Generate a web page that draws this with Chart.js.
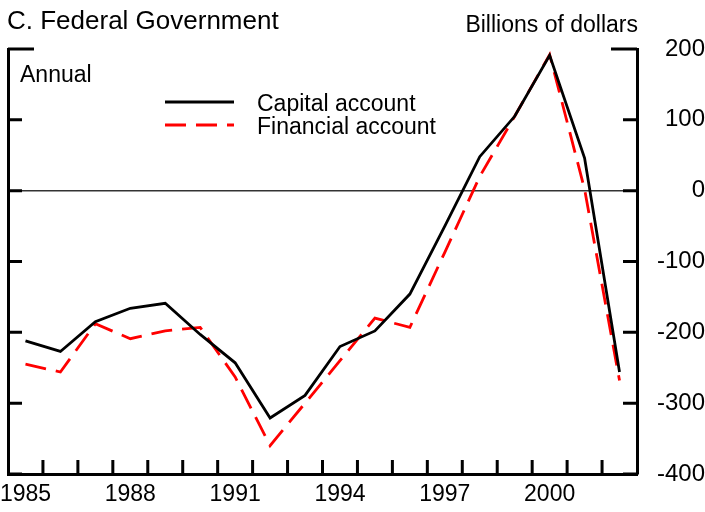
<!DOCTYPE html>
<html lang="en">
<head>
<meta charset="UTF-8">
<title>C. Federal Government</title>
<script src="https://cdn.jsdelivr.net/npm/chart.js"></script>
<style>
  body { margin: 0; background: #fff; }
  canvas { display: block; }
</style>
</head>
<body>
<canvas id="chart" width="705" height="512"></canvas>
<script>
// Billions of dollars, annual
const years = ['1985', '1986', '1987', '1988', '1989', '1990', '1991', '1992', '1993',
  '1994', '1995', '1996', '1997', '1998', '1999', '2000', '2001', '2002'];
const capitalAccount = [-212, -227, -185, -166, -159, -203, -243, -321, -289,
  -220, -198, -146, -50, 48, 105, 191, 46, -256];
const financialAccount = [-245, -256, -188, -209, -198, -193, -263, -360, -300,
  -240, -180, -193, -87, 20, 105, 192, 2, -268];
const yTickValues = [-400, -300, -200, -100, 0, 100, 200];

const font = '"Liberation Sans", Arial, sans-serif';

// inward tick marks, corner caps, headings and legend
const framePlugin = {
  id: 'frame',
  afterDatasetsDraw(chart) {
    const { ctx, chartArea: a, scales } = chart;
    const x = scales.x, y = scales.y;
    ctx.save();
    ctx.strokeStyle = '#000';
    ctx.lineWidth = 3;
    ctx.beginPath();
    yTickValues.forEach(v => {
      const py = y.getPixelForValue(v);
      const len = v === y.max ? 26 : 14;
      ctx.moveTo(a.left, py); ctx.lineTo(a.left + len, py);
      ctx.moveTo(a.right, py); ctx.lineTo(a.right - len, py);
    });
    for (let i = 1; i < years.length; i++) {
      const px = (x.getPixelForValue(i - 1) + x.getPixelForValue(i)) / 2;
      ctx.moveTo(px, a.bottom); ctx.lineTo(px, a.bottom - 14);
    }
    ctx.stroke();

    ctx.fillStyle = '#000';
    ctx.textBaseline = 'alphabetic';
    ctx.font = '26px ' + font;
    ctx.textAlign = 'left';
    ctx.fillText('C. Federal Government', 7, 29);
    ctx.font = '23px ' + font;
    ctx.textAlign = 'right';
    ctx.fillText('Billions of dollars', 638, 32);
    ctx.textAlign = 'left';
    ctx.fillText('Annual', 20, 82);

    // legend
    const items = chart.data.datasets;
    items.forEach((ds, i) => {
      const ly = 102 + i * 23;
      ctx.beginPath();
      ctx.strokeStyle = ds.borderColor;
      ctx.lineWidth = ds.borderWidth;
      ctx.setLineDash(ds.borderDash || []);
      ctx.moveTo(165, ly); ctx.lineTo(234, ly);
      ctx.stroke();
      ctx.setLineDash([]);
      ctx.fillText(ds.label, 257, ly + 9);
    });
    ctx.restore();
  }
};

new Chart(document.getElementById('chart'), {
  type: 'line',
  data: {
    labels: years,
    datasets: [
      {
        label: 'Capital account',
        data: capitalAccount,
        borderColor: '#000',
        borderWidth: 2.8,
        pointRadius: 0,
        tension: 0
      },
      {
        label: 'Financial account',
        data: financialAccount,
        borderColor: '#ff0000',
        borderWidth: 2.8,
        borderDash: [21, 10],
        pointRadius: 0,
        tension: 0
      }
    ]
  },
  options: {
    responsive: false,
    animation: false,
    layout: { padding: { top: 49, left: 0, right: 0, bottom: 0 } },
    plugins: { legend: { display: false }, tooltip: { enabled: false } },
    scales: {
      x: {
        offset: true,
        grid: { display: false, drawTicks: false },
        border: { display: true, width: 3, color: '#000' },
        ticks: {
          autoSkip: false,
          maxRotation: 0,
          padding: 7,
          color: '#000',
          font: { family: font, size: 23 },
          callback: (v, i) => (i % 3 === 0 ? years[i] : '')
        },
        afterFit: s => { s.height = 38; s.paddingLeft = 0; s.paddingRight = 0; }
      },
      y: {
        position: 'right',
        min: -400,
        max: 200,
        afterBuildTicks: s => { s.ticks = yTickValues.map(v => ({ value: v })); },
        grid: {
          drawTicks: false,
          color: c => (c.tick && c.tick.value === 0 ? '#333' : 'rgba(0,0,0,0)'),
          lineWidth: 1.5
        },
        border: { display: true, width: 3, color: '#000' },
        ticks: {
          padding: 15,
          crossAlign: 'far',
          color: '#000',
          font: { family: font, size: 24 }
        },
        afterFit: s => { s.width = 68; }
      },
      yLeft: {
        position: 'left',
        min: -400,
        max: 200,
        grid: { display: false, drawTicks: false },
        border: { display: true, width: 3, color: '#000' },
        ticks: { display: false },
        afterFit: s => { s.width = 8; }
      }
    }
  },
  plugins: [framePlugin]
});
</script>
</body>
</html>
